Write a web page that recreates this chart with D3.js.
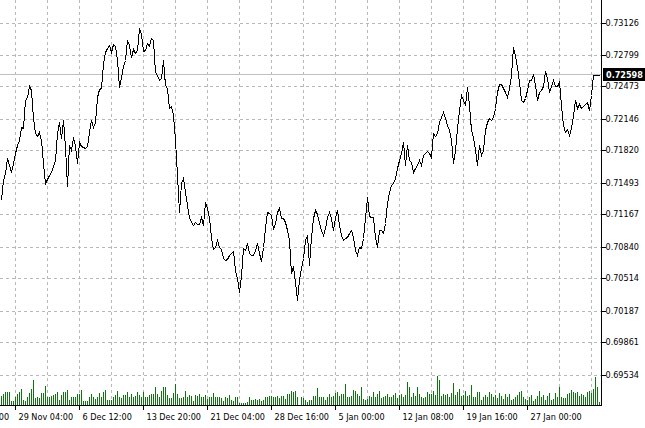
<!DOCTYPE html>
<html><head><meta charset="utf-8">
<script src="https://cdn.jsdelivr.net/npm/d3@7"></script>
<style>
html,body{margin:0;padding:0;background:#fff;}
svg{display:block;}
</style></head><body>
<svg id="chart" width="645" height="428"></svg>
<script>
// H4 closing prices, one per bar
const closes = [
0.71325,0.71529,0.71600,0.71753,0.71682,0.71611,0.71702,0.71804,0.71886,0.71937,0.72070,0.72060,0.72345,0.72376,0.72488,0.72447,0.72162,0.72009,0.71978,0.72019,0.71937,0.71702,0.71498,0.71539,0.71580,
0.71611,0.71672,0.71733,0.72009,0.72121,0.71957,0.72141,0.71866,0.71468,0.71886,0.71835,0.71968,0.71876,0.71702,0.71917,0.71876,0.71866,0.71855,0.71876,0.72019,0.72141,0.72070,0.72121,0.72376,0.72458,
0.72468,0.72723,0.72835,0.72876,0.72907,0.72835,0.72917,0.72896,0.72754,0.72478,0.72580,0.72692,0.72754,0.72958,0.72907,0.72784,0.72866,0.72825,0.72856,0.73080,0.73019,0.72845,0.72856,0.72927,0.72896,
0.72978,0.72958,0.72631,0.72600,0.72549,0.72570,0.72754,0.72498,0.72468,0.72264,0.72284,0.72192,0.71937,0.71580,0.71202,0.71498,0.71549,0.71406,0.71274,0.71151,0.71100,0.71070,0.71100,0.71080,0.71080,
0.71151,0.71070,0.71304,0.71243,0.71141,0.70947,0.70825,0.70845,0.70917,0.70845,0.70825,0.70733,0.70712,0.70723,0.70764,0.70784,0.70804,0.70610,0.70529,0.70386,0.70559,0.70835,0.70815,0.70886,0.70784,
0.70764,0.70764,0.70815,0.70886,0.70784,0.70702,0.70845,0.71039,0.71202,0.71192,0.71172,0.71029,0.71090,0.71202,0.71243,0.71141,0.71141,0.71100,0.71019,0.70917,0.70580,0.70651,0.70488,0.70304,0.70508,
0.70631,0.70733,0.70917,0.70968,0.70661,0.70947,0.71141,0.71223,0.71182,0.71090,0.71019,0.70968,0.71039,0.71151,0.71202,0.71141,0.71019,0.71151,0.71223,0.71070,0.70968,0.70917,0.70937,0.70947,0.70988,
0.71019,0.70947,0.70815,0.70764,0.70845,0.70835,0.70937,0.71141,0.71355,0.71162,0.71151,0.71151,0.70947,0.70845,0.71019,0.71019,0.70988,0.71090,0.71294,0.71406,0.71478,0.71498,0.71549,0.71651,0.71733,
0.71804,0.71917,0.71682,0.71886,0.71733,0.71713,0.71611,0.71651,0.71682,0.71733,0.71682,0.71784,0.71804,0.71825,0.71804,0.71764,0.72009,0.71978,0.72009,0.72121,0.72172,0.72223,0.72162,0.72090,0.72039,
0.71937,0.71702,0.71835,0.72060,0.72243,0.72396,0.72345,0.72294,0.72478,0.72294,0.72039,0.71968,0.71835,0.71682,0.71886,0.71784,0.71835,0.72039,0.72121,0.72162,0.72141,0.72172,0.72264,0.72427,0.72509,
0.72509,0.72468,0.72427,0.72376,0.72468,0.72600,0.72886,0.72805,0.72682,0.72529,0.72345,0.72325,0.72366,0.72447,0.72549,0.72549,0.72611,0.72498,0.72345,0.72427,0.72447,0.72488,0.72641,0.72570,0.72427,
0.72488,0.72549,0.72488,0.72488,0.72529,0.72294,0.72090,0.72019,0.72049,0.71988,0.72060,0.72192,0.72345,0.72264,0.72305,0.72264,0.72284,0.72305,0.72325,0.72243,0.72396,0.72598,0.72598,0.72598,0.72598
];
// tick volume per bar (hundreds of ticks)
const volumes = [
9,11,13,13,13,4,4,8,11,13,16,5,4,8,12,16,25,7,8,7,12,12,19,8,8,
9,10,11,13,5,10,13,13,15,5,8,8,8,11,11,15,4,4,4,8,11,8,6,8,12,
8,13,15,5,5,5,8,10,14,8,7,10,10,13,8,11,8,9,13,10,8,13,8,8,10,
11,11,18,11,8,14,18,18,10,7,7,12,21,11,7,7,8,14,8,10,9,4,10,9,11,
8,8,10,6,8,8,12,8,8,8,7,4,8,7,10,5,4,8,8,2,2,2,2,3,8,
5,5,6,5,6,4,5,8,8,9,9,8,8,9,7,9,9,6,11,11,14,13,14,8,0,
8,7,5,3,5,5,9,9,17,8,8,8,5,8,11,8,9,12,13,9,11,11,21,8,8,
9,15,14,11,9,18,6,5,6,9,8,13,8,11,14,7,8,9,11,8,8,10,12,7,10,
11,8,10,23,18,8,12,9,18,11,8,7,8,13,11,11,14,10,29,25,9,11,10,11,8,
12,22,10,13,16,9,10,14,9,10,20,8,8,13,13,5,8,10,8,13,11,8,10,7,12,
9,6,11,8,11,5,6,8,10,13,14,8,6,5,8,10,4,6,9,14,8,10,5,9,12,
5,6,12,8,18,8,7,7,11,12,15,13,12,13,9,11,10,8,13,14,12,16,28,18,3
];
const priceTicks = [0.73126,0.72799,0.72473,0.72146,0.71820,0.71493,0.71167,0.70840,0.70514,0.70187,0.69861,0.69534];
const timeLabels = ["21 Nov 20:00","29 Nov 04:00","6 Dec 12:00","13 Dec 20:00","21 Dec 04:00","28 Dec 16:00","5 Jan 00:00","12 Jan 08:00","19 Jan 16:00","27 Jan 00:00"];
const firstLabelBar = -25;
const barsPerLabel = 32;
const barsPerGrid = 16;
const lastPrice = 0.72598;

const plotRight = 601, plotBottom = 405;
const FONT = "'DejaVu Sans Condensed','DejaVu Sans',sans-serif";
const svg = d3.select("#chart");
const x = d3.scaleLinear().domain([0, closes.length - 1]).range([1, 599]);
const y = d3.scaleLinear().domain([priceTicks[priceTicks.length-1], priceTicks[0]]).range([375.5, 23.5]);
const yv = d3.scaleLinear().domain([0, 30]).range([plotBottom, plotBottom - 30]);
const snap = v => Math.round(v) - 0.5;

svg.append("rect").attr("width", 645).attr("height", 428).attr("fill", "#fff");

// grid
const grid = svg.append("g").attr("stroke", "#b8b8b8").attr("stroke-dasharray", "3,3").attr("shape-rendering", "crispEdges");
const gridBars = d3.range(firstLabelBar + barsPerGrid, closes.length, barsPerGrid).filter(b => x(b) > 0 && x(b) < plotRight);
grid.selectAll("line.v").data(gridBars).join("line")
  .attr("x1", d => x(d) + 0.5).attr("x2", d => x(d) + 0.5)
  .attr("y1", 0).attr("y2", plotBottom);
grid.selectAll("line.h").data(priceTicks).join("line")
  .attr("x1", 0).attr("x2", plotRight)
  .attr("y1", d => snap(y(d))).attr("y2", d => snap(y(d)));

// last price line
svg.append("line").attr("x1", 0).attr("x2", plotRight)
  .attr("y1", snap(y(lastPrice))).attr("y2", snap(y(lastPrice)))
  .attr("stroke", "#c0c0c0").attr("shape-rendering", "crispEdges");

// volumes
svg.append("g").attr("fill", "#087808").attr("shape-rendering", "crispEdges")
  .selectAll("rect").data(volumes).join("rect")
  .attr("x", (d, i) => x(i)).attr("width", 1)
  .attr("y", d => yv(d)).attr("height", d => plotBottom - yv(d));

// price line
svg.append("path").datum(closes)
  .attr("fill", "none").attr("stroke", "#000").attr("stroke-width", 1)
  .attr("shape-rendering", "crispEdges")
  .attr("d", d3.line().x((d, i) => x(i) + 0.5).y(d => Math.round(y(d)) + 0.5));

// axes frame
svg.append("line").attr("x1", plotRight + 0.5).attr("x2", plotRight + 0.5).attr("y1", 0).attr("y2", plotBottom + 1)
  .attr("stroke", "#000").attr("shape-rendering", "crispEdges");
svg.append("line").attr("x1", 0).attr("x2", plotRight + 1).attr("y1", plotBottom + 0.5).attr("y2", plotBottom + 0.5)
  .attr("stroke", "#000").attr("shape-rendering", "crispEdges");

// bottom axis
const tickBars = timeLabels.map((_, k) => firstLabelBar + k * barsPerLabel);
const xAxis = d3.axisBottom(x).tickValues(tickBars).tickFormat((d, k) => timeLabels[k]).tickSize(5).tickSizeOuter(0);
const gx = svg.append("g").attr("transform", `translate(0,${plotBottom})`).call(xAxis);
gx.select(".domain").remove();
gx.selectAll(".tick line").attr("stroke", "#000").attr("shape-rendering", "crispEdges");
gx.selectAll(".tick text").attr("text-anchor", "start").attr("x", 3).attr("y", 9).attr("dy", "0.71em")
  .attr("fill", "#000").style("font-family", FONT).style("font-size", "9px");

// right axis
const yAxis = d3.axisRight(y).tickValues(priceTicks).tickFormat(d3.format(".5f")).tickSize(4).tickPadding(0).offset(0);
const gy = svg.append("g").attr("transform", `translate(${plotRight + 0.5},0)`).call(yAxis);
gy.select(".domain").remove();
gy.selectAll(".tick").attr("transform", d => `translate(0,${snap(y(d))})`);
gy.selectAll(".tick line").attr("stroke", "#000").attr("shape-rendering", "crispEdges");
gy.selectAll(".tick text").attr("x", 4).attr("fill", "#000").style("font-family", FONT).style("font-size", "9px");

// last price tag
const ly = snap(y(lastPrice));
svg.append("rect").attr("x", plotRight + 2).attr("y", ly - 6.5).attr("width", 42).attr("height", 13).attr("fill", "#000");
svg.append("text").attr("x", plotRight + 5).attr("y", ly).attr("dy", "0.35em")
  .attr("fill", "#fff").style("font-family", FONT).style("font-size", "9px").style("font-weight", "bold")
  .text(d3.format(".5f")(lastPrice));
</script>
</body></html>
